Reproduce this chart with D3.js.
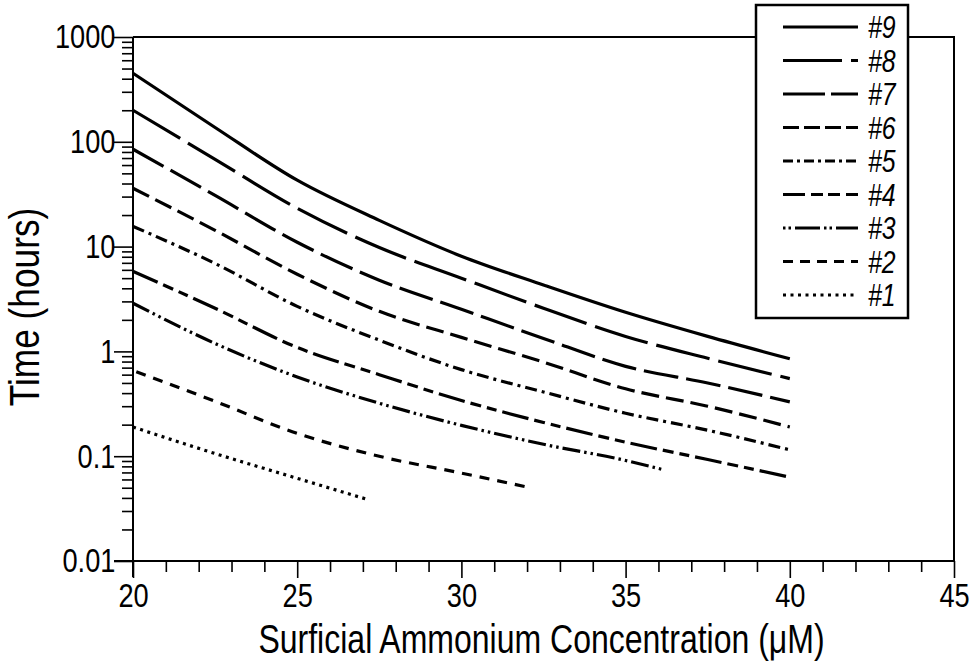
<!DOCTYPE html>
<html>
<head>
<meta charset="utf-8">
<script src="https://cdn.jsdelivr.net/npm/d3@7"></script>
<style>
  html, body { margin: 0; padding: 0; background: #fff; }
  svg { display: block; }
  text { font-family: "Liberation Sans", Arial, sans-serif; fill: #000; }
</style>
</head>
<body>
<div id="chart"></div>
<script>
// values
const conc = [20, 22.5, 25, 27.5, 30, 32.5, 35, 37.5, 40];
const conc3 = [20, 22.5, 25, 27.5, 30, 32.5, 35, 36.1];
const conc2 = [20.1, 22.5, 25, 27.5, 30, 32.1];
const conc1 = [20, 22.5, 25, 27.1];

const time9 = [451, 137, 43, 17.8, 8.1, 4.3, 2.36, 1.39, 0.85];
const time8 = [200, 68, 23.2, 9.8, 5.0, 2.58, 1.39, 0.86, 0.55];
const time7 = [85, 30.8, 11, 4.78, 2.52, 1.33, 0.72, 0.50, 0.33];
const time6 = [36, 14.3, 5.45, 2.41, 1.36, 0.79, 0.44, 0.30, 0.19];
const time5 = [15.6, 6.9, 2.69, 1.28, 0.67, 0.41, 0.257, 0.177, 0.115];
const time4 = [5.8, 2.58, 1.09, 0.60, 0.34, 0.21, 0.136, 0.093, 0.063];
const time3 = [2.88, 1.19, 0.57, 0.32, 0.197, 0.13, 0.091, 0.075];
const time2 = [0.64, 0.334, 0.165, 0.0998, 0.069, 0.05];
const time1 = [0.19, 0.106, 0.0615, 0.039];

const seriesNames = ["#9", "#8", "#7", "#6", "#5", "#4", "#3", "#2", "#1"];
const xTicks = [20, 25, 30, 35, 40, 45];
const yTicks = [0.01, 0.1, 1, 10, 100, 1000];
const yTickLabels = ["0.01", "0.1", "1", "10", "100", "1000"];

const series = [
  { name: seriesNames[0], xs: conc, ys: time9, dash: null, legendDash: null },
  { name: seriesNames[1], xs: conc, ys: time8, dash: "55,9", legendDash: "59,9,7,60" },
  { name: seriesNames[2], xs: conc, ys: time7, dash: "35,8", legendDash: "42,6" },
  { name: seriesNames[3], xs: conc, ys: time6, dash: "18,7", legendDash: "16,5" },
  { name: seriesNames[4], xs: conc, ys: time5, dash: "12,5,3,5", legendDash: "10,4,3,4" },
  { name: seriesNames[5], xs: conc, ys: time4, dash: "27,6,11,6,10,6", legendDash: "22,6,12,5,12,6" },
  { name: seriesNames[6], xs: conc3, ys: time3, dash: "18,4,2.5,4,2.5,4", legendDash: "2.5,3,2.5,4,25,4" },
  { name: seriesNames[7], xs: conc2, ys: time2, dash: "10,8", legendDash: "10,7" },
  { name: seriesNames[8], xs: conc1, ys: time1, dash: "3,4.5", legendDash: "3,4.5" }
];

const width = 977, height = 667;
const svg = d3.select("#chart").append("svg")
  .attr("width", width).attr("height", height);

const x = d3.scaleLinear().domain([20, 45]).range([133, 954]);
const y = d3.scaleLog().domain([0.01, 1000]).range([561, 37]);

// frame (top and right)
svg.append("path")
  .attr("d", `M${x(20)},${y(1000)}H${x(45)}V${y(0.01)}`)
  .attr("fill", "none").attr("stroke", "#000").attr("stroke-width", 2);

// minor ticks
const yMinor = [];
[0.01, 0.1, 1, 10, 100].forEach(d => { for (let k = 2; k <= 9; k++) yMinor.push(d * k); });
const xMinor = d3.range(20, 46).filter(v => !xTicks.includes(v));

const yMinorAxis = svg.append("g").attr("transform", `translate(${x(20)},0)`)
  .call(d3.axisLeft(y).tickValues(yMinor).tickSize(11).tickFormat("").tickSizeOuter(0));
const yAxis = svg.append("g").attr("transform", `translate(${x(20)},0)`)
  .call(d3.axisLeft(y).tickValues(yTicks).tickSize(19).tickPadding(3)
    .tickFormat((d, i) => yTickLabels[i]).tickSizeOuter(0));
const xMinorAxis = svg.append("g").attr("transform", `translate(0,${y(0.01)})`)
  .call(d3.axisBottom(x).tickValues(xMinor).tickSize(11).tickFormat("").tickSizeOuter(0));
const xAxis = svg.append("g").attr("transform", `translate(0,${y(0.01)})`)
  .call(d3.axisBottom(x).tickValues(xTicks).tickSize(17).tickPadding(5).tickSizeOuter(0));

[yMinorAxis, yAxis, xMinorAxis, xAxis].forEach(g => {
  g.select(".domain").remove();
  g.selectAll(".tick line").attr("stroke", "#000").attr("stroke-width", 1.6);
});
svg.selectAll(".tick text")
  .attr("font-size", 34)
  .attr("fill", "#000")
  .attr("transform", "scale(0.8,1)");

// axis lines, the y axis runs a bit below the x axis
svg.append("line")
  .attr("x1", x(20)).attr("x2", x(20)).attr("y1", y(1000)).attr("y2", y(0.01) + 16)
  .attr("stroke", "#000").attr("stroke-width", 2);
svg.append("line")
  .attr("x1", x(20) - 19).attr("x2", x(45)).attr("y1", y(0.01)).attr("y2", y(0.01))
  .attr("stroke", "#000").attr("stroke-width", 2);

// curves
const line = d3.line().x(d => x(d[0])).y(d => y(d[1])).curve(d3.curveMonotoneX);
svg.append("g").selectAll("path")
  .data(series)
  .join("path")
  .attr("d", s => line(s.xs.map((v, i) => [v, s.ys[i]])))
  .attr("fill", "none")
  .attr("stroke", "#000")
  .attr("stroke-width", 3.2)
  .attr("stroke-dasharray", s => s.dash);

// axis titles
svg.append("text")
  .attr("transform", `translate(${(x(20) + x(45)) / 2 - 2},653) scale(0.8,1)`)
  .attr("text-anchor", "middle")
  .attr("font-size", 40)
  .text("Surficial Ammonium Concentration (μM)");

svg.append("text")
  .attr("transform", `translate(39,${(y(1000) + y(0.01)) / 2 + 8}) rotate(-90) scale(0.84,1)`)
  .attr("text-anchor", "middle")
  .attr("font-size", 42)
  .text("Time (hours)");

// legend
const legend = svg.append("g");
legend.append("rect")
  .attr("x", 756).attr("y", 5).attr("width", 152).attr("height", 313)
  .attr("fill", "#fff").attr("stroke", "#000").attr("stroke-width", 2.5);

const item = legend.selectAll("g.item")
  .data(series)
  .join("g")
  .attr("class", "item")
  .attr("transform", (d, i) => `translate(0,${27 + i * 33.5})`);
item.append("line")
  .attr("x1", 783).attr("x2", 858).attr("y1", 0).attr("y2", 0)
  .attr("stroke", "#000").attr("stroke-width", 3.2)
  .attr("stroke-dasharray", d => d.legendDash);
item.append("text")
  .attr("transform", "translate(868,11) scale(0.8,1)")
  .attr("font-size", 31)
  .attr("font-style", "italic")
  .text(d => d.name);
</script>
</body>
</html>
